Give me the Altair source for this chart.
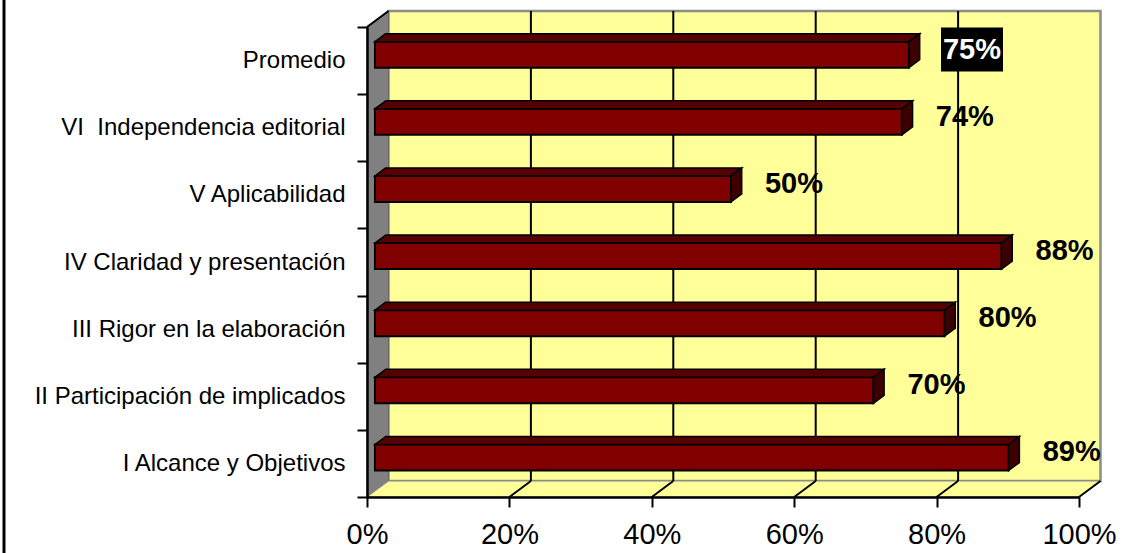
import altair as alt
import pandas as pd

# Evaluation scores per domain (percent)
categories = [
    "I Alcance y Objetivos",
    "II Participación de implicados",
    "III Rigor en la elaboración",
    "IV Claridad y presentación",
    "V Aplicabilidad",
    "VI\u00a0\u00a0Independencia editorial",
    "Promedio",
]
values = [89, 70, 80, 88, 50, 74, 75]
x_ticks = [0, 20, 40, 60, 80, 100]
highlight = "Promedio"

# Plot geometry (front plane) and pseudo-3D depth
W, H = 712, 470
N = len(categories)
PX = 100 / W          # x units per pixel
PY = N / H            # y units per pixel
DX, DY = 21.5 * PX, 16 * PY     # wall depth
F0, F1 = 0.37, 0.87             # bar front / back position within the depth
BH = 26 * PY                    # bar thickness
LABEL_DX, LABEL_DY = 71, -11    # value label offset from bar end (px)

WALL = "#FFFF99"
SIDE_WALL = "#808080"
BAR_FRONT = "#800000"
BAR_TOP = "#560000"
BAR_SIDE = "#3c0000"
FONT = "Liberation Sans"

xs = alt.Scale(domain=[0, 100], nice=False, zero=False)
ys = alt.Scale(domain=[0, N], nice=False, zero=False)
x_axis = alt.Axis(
    values=x_ticks, labelExpr="datum.value + '%'", title=None, grid=False,
    domainColor="black", domainWidth=2.5, tickColor="black", tickWidth=2,
    tickSize=10, labelFontSize=29, labelFont=FONT, labelColor="black",
    labelPadding=13, labelFlush=False, labelOverlap=False, zindex=1,
)
y_axis = alt.Axis(
    title=None, orient="left", tickBand="extent", domainColor="black",
    domainWidth=2.5, tickColor="black", tickWidth=2, tickSize=10,
    labelFontSize=24, labelFont=FONT, labelColor="black", labelPadding=12,
    labelLimit=400, zindex=1,
)


def X(f):
    return alt.X(f"{f}:Q", scale=xs, axis=x_axis)


def Y(f):
    return alt.Y(f"{f}:Q", scale=ys, axis=None)


# Back wall
wall_df = pd.DataFrame({"x": [DX], "x2": [100 + DX], "y": [DY], "y2": [N + DY]})
wall = alt.Chart(wall_df).mark_rect(fill=WALL, stroke="#8c8c8c", strokeWidth=2.5).encode(
    x=X("x"), x2="x2", y=Y("y"), y2="y2")

# Left side wall
lw_df = pd.DataFrame({"x": [0, DX], "y": [0, DY], "y2": [N, N + DY]})
left_wall = alt.Chart(lw_df).mark_area(orient="vertical", fill=SIDE_WALL, stroke="#6a6a6a",
                                       strokeWidth=1).encode(x=X("x"), y=Y("y"), y2="y2")

# Floor
fl_df = pd.DataFrame({"y": [0, DY], "x": [0, DX], "x2": [100, 100 + DX]})
floor = alt.Chart(fl_df).mark_area(orient="horizontal", fill=WALL, stroke="#8c8c8c",
                                   strokeWidth=1).encode(y=Y("y"), x=X("x"), x2="x2")

# Gridlines on the back wall
grid_df = pd.DataFrame({"x": [t + DX for t in x_ticks[1:-1]], "y": DY, "y2": N + DY})
grid = alt.Chart(grid_df).mark_rule(color="black", strokeWidth=2).encode(
    x=X("x"), y=Y("y"), y2="y2")

# Gridlines running across the floor
fg_df = pd.DataFrame({"x": x_ticks[1:], "x2": [t + DX for t in x_ticks[1:]], "y": 0.0, "y2": DY})
floor_grid = alt.Chart(fg_df).mark_rule(color="black", strokeWidth=2).encode(
    x=X("x"), x2="x2", y=Y("y"), y2="y2")

# Top edge of the side wall
edge_df = pd.DataFrame({"x": [0.0], "x2": [DX], "y": [float(N)], "y2": [N + DY]})
wall_edge = alt.Chart(edge_df).mark_rule(color="black", strokeWidth=2).encode(
    x=X("x"), x2="x2", y=Y("y"), y2="y2")

# Bars: front, top and side faces
front_rows, top_rows, side_rows, box_rows = [], [], [], []
for i, (cat, v) in enumerate(zip(categories, values)):
    c = i + 0.5
    lo, hi = c - BH / 2, c + BH / 2
    front_rows.append({"cat": cat, "x": F0 * DX, "x2": v + F0 * DX,
                       "y": lo + F0 * DY, "y2": hi + F0 * DY})
    for f in (F0, F1):
        top_rows.append({"cat": cat, "y": hi + f * DY, "x": f * DX, "x2": v + f * DX})
        side_rows.append({"cat": cat, "x": v + f * DX, "y": lo + f * DY, "y2": hi + f * DY})
    if cat == highlight:
        box_rows.append({"cat": cat,
                         "x": v + (LABEL_DX - 31) * PX, "x2": v + (LABEL_DX + 31) * PX,
                         "y": c + (-LABEL_DY - 22) * PY, "y2": c + (-LABEL_DY + 22) * PY})

front = alt.Chart(pd.DataFrame(front_rows)).mark_rect(
    fill=BAR_FRONT, stroke="black", strokeWidth=2).encode(x=X("x"), x2="x2", y=Y("y"), y2="y2")
top = alt.Chart(pd.DataFrame(top_rows)).mark_area(
    orient="horizontal", fill=BAR_TOP, stroke="black", strokeWidth=1.5).encode(
    y=Y("y"), x=X("x"), x2="x2", detail="cat:N")
side = alt.Chart(pd.DataFrame(side_rows)).mark_area(
    orient="vertical", fill=BAR_SIDE, stroke="black", strokeWidth=1.5).encode(
    x=X("x"), y=Y("y"), y2="y2", detail="cat:N")
box = alt.Chart(pd.DataFrame(box_rows)).mark_rect(fill="black").encode(
    x=X("x"), x2="x2", y=Y("y"), y2="y2")

# Chart-area border on the left
frame = alt.Chart(pd.DataFrame({"a": [0]})).mark_rule(color="black", strokeWidth=3).encode(
    x=alt.value(-363), y=alt.value(-27), y2=alt.value(H + 56))

# Value labels on the category axis
lab_df = pd.DataFrame({"cat": categories, "value": values,
                       "label": [f"{v}%" for v in values]})
text = alt.Chart(lab_df).mark_text(
    font=FONT, fontSize=29, fontWeight="bold", dx=LABEL_DX, dy=LABEL_DY,
    align="center", baseline="middle").encode(
    x=X("value"),
    y=alt.Y("cat:N", sort=list(reversed(categories)),
            scale=alt.Scale(paddingInner=0, paddingOuter=0), axis=y_axis),
    text="label:N",
    color=alt.condition(alt.datum.cat == highlight, alt.value("white"), alt.value("black")),
)

scene = alt.layer(wall, left_wall, floor, grid, floor_grid, wall_edge,
                  front, top, side, box, frame)

chart = alt.layer(scene, text).resolve_scale(y="independent").properties(
    width=W, height=H,
    padding={"left": 367, "top": 27, "right": 1124 - 367 - W, "bottom": 553 - 27 - H},
    autosize=alt.AutoSizeParams(type="none"),
    background="white",
).configure_view(stroke=None).configure(font=FONT)

chart.save("out.html", embed_options={"renderer": "svg", "actions": False})
